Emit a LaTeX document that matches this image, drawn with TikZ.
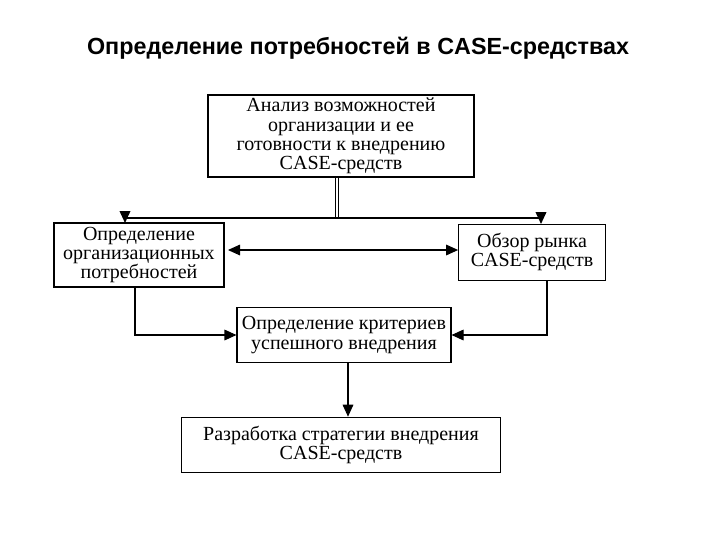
\documentclass[tikz,border=0pt]{standalone}
\usepackage{fontspec}
\setmainfont{Liberation Serif}
\newfontfamily\titlefont{Liberation Sans}
\usetikzlibrary{arrows.meta}
\begin{document}
\begin{tikzpicture}[x=0.75pt,y=-0.75pt,
  box/.style={draw,line width=1.2pt,align=center,inner sep=0pt,font=\fontsize{15}{14.5}\selectfont},
  arr/.style={-{Triangle[length=9pt,width=8pt]},line width=0.8pt}]
\useasboundingbox (0,0) rectangle (720,540);
\node[font=\titlefont\bfseries\fontsize{17.5}{20}\selectfont] (title) at (358,48) {Определение потребностей в CASE-средствах};
\node[box,minimum width=266*0.75pt,minimum height=82*0.75pt] (a) at (341,136) {Анализ возможностей\\организации и ее\\готовности к внедрению\\CASE-средств};
\node[box,minimum width=170*0.75pt,minimum height=64*0.75pt] (l) at (139,255) {Определение\\организационных\\потребностей};
\node[box,line width=0.6pt,minimum width=147*0.75pt,minimum height=56*0.75pt] (r) at (532,252) {Обзор рынка\\CASE-средств};
\node[box,line width=0.8pt,minimum width=214*0.75pt,minimum height=55*0.75pt] (m) at (344,335) {Определение критериев\\успешного внедрения};
\node[box,minimum width=319*0.75pt,minimum height=55*0.75pt] (b) at (341,445) {Разработка стратегии внедрения\\CASE-средств};
\coordinate (j) at (337,218);
\draw[double,line width=0.5pt,double distance=1.5pt] (a.south -| j) -- (j);
\draw[arr,line width=1.2pt] (j) -| (125,223);
\draw[arr,line width=1.2pt] (j) -| (541,224);
\draw[{Triangle[length=9pt,width=8pt]}-{Triangle[length=9pt,width=8pt]},line width=0.8pt] (228,250) -- (r.west |- 0,250);
\draw[arr] (135,287) |- (m.west |- 0,335);
\draw[arr] (547,280) |- (m.east |- 0,335);
\draw[arr] (348,363) -- (b.north -| 348,0);
\end{tikzpicture}
\end{document}
